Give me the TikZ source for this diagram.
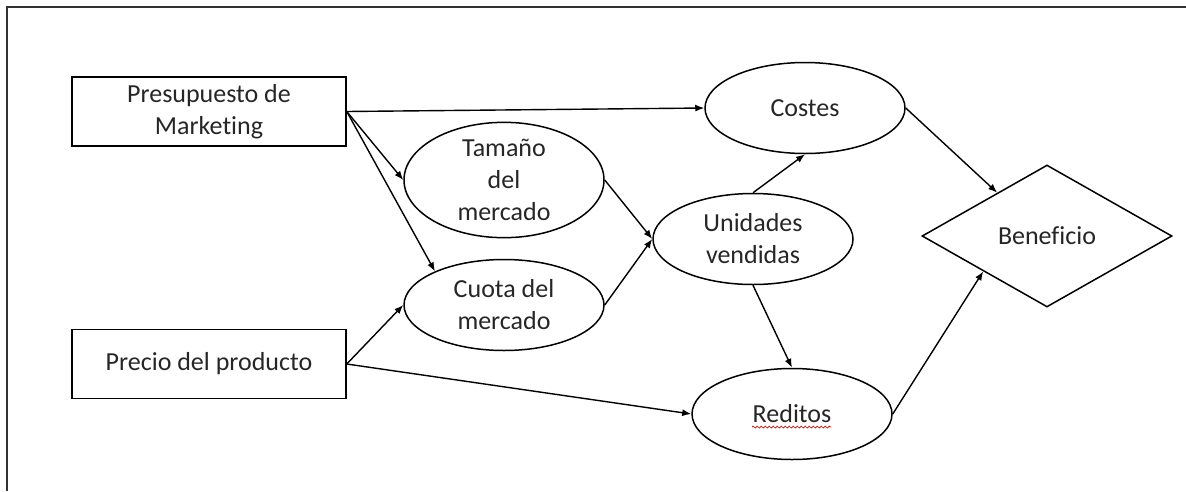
\documentclass[tikz,border=0pt]{standalone}
\usepackage{fontspec}
\setmainfont[Ligatures={NoCommon}]{Carlito}
\usetikzlibrary{shapes.geometric,arrows.meta,decorations.pathmorphing}
\begin{document}
\begin{tikzpicture}[x=1pt,y=-1pt,
  every node/.style={font=\fontsize{26}{32}\selectfont, text=black!85},
  boxnode/.style={draw, line width=1.5pt, minimum width=274pt, minimum height=69pt, inner sep=0pt, align=center},
  ellnode/.style={draw, ellipse, line width=1.5pt, minimum width=200pt, minimum height=91pt, inner sep=0pt, align=center},
  dianode/.style={draw, diamond, line width=1.5pt, minimum width=250pt, minimum height=142pt, inner sep=0pt},
  link/.style={line width=1.4pt, -{Latex[length=9pt,width=7pt]}},
  framed/.style={line width=1.5pt, draw=black!80}]
\useasboundingbox (0,0) rectangle (1186,491);
\draw[framed] (7,491) -- (7,7) -- (1186,7);

\node[boxnode] (pm) at (209,111.5) {Presupuesto de\\Marketing};
\node[boxnode] (pp) at (209,364) {Precio del producto};
\node[ellnode] (ta) at (504,180) {Tamaño\\del\\mercado};
\node[ellnode] (cu) at (504,305) {Cuota del\\mercado};
\node[ellnode] (un) at (753,239) {Unidades\\vendidas};
\node[ellnode] (co) at (805,108) {Costes};
\node[ellnode] (re) at (792,414) {Reditos};
\node[dianode] (be) at (1047,236) {Beneficio};

\draw[red!85!black, line width=0.7pt, decorate, decoration={snake, amplitude=1pt, segment length=4pt}]
  ([xshift=-40pt,yshift=-13pt]re.center) -- ([xshift=39pt,yshift=-13pt]re.center);

\draw[link] (pm.east) -- (co.west);
\draw[link] (pm.east) -- (ta.west);
\draw[link] (pm.east) -- (cu.154);
\draw[link] (pp.east) -- (cu.west);
\draw[link] (pp.east) -- (re.west);
\draw[link] (ta.east) -- (un.west);
\draw[link] (cu.east) -- (un.west);
\draw[link] (un.north) -- (co.south);
\draw[link] (un.south) -- (re.north);
\draw[link] (co.east) -- (be.139);
\draw[link] (re.east) -- (be.209);
\end{tikzpicture}
\end{document}
